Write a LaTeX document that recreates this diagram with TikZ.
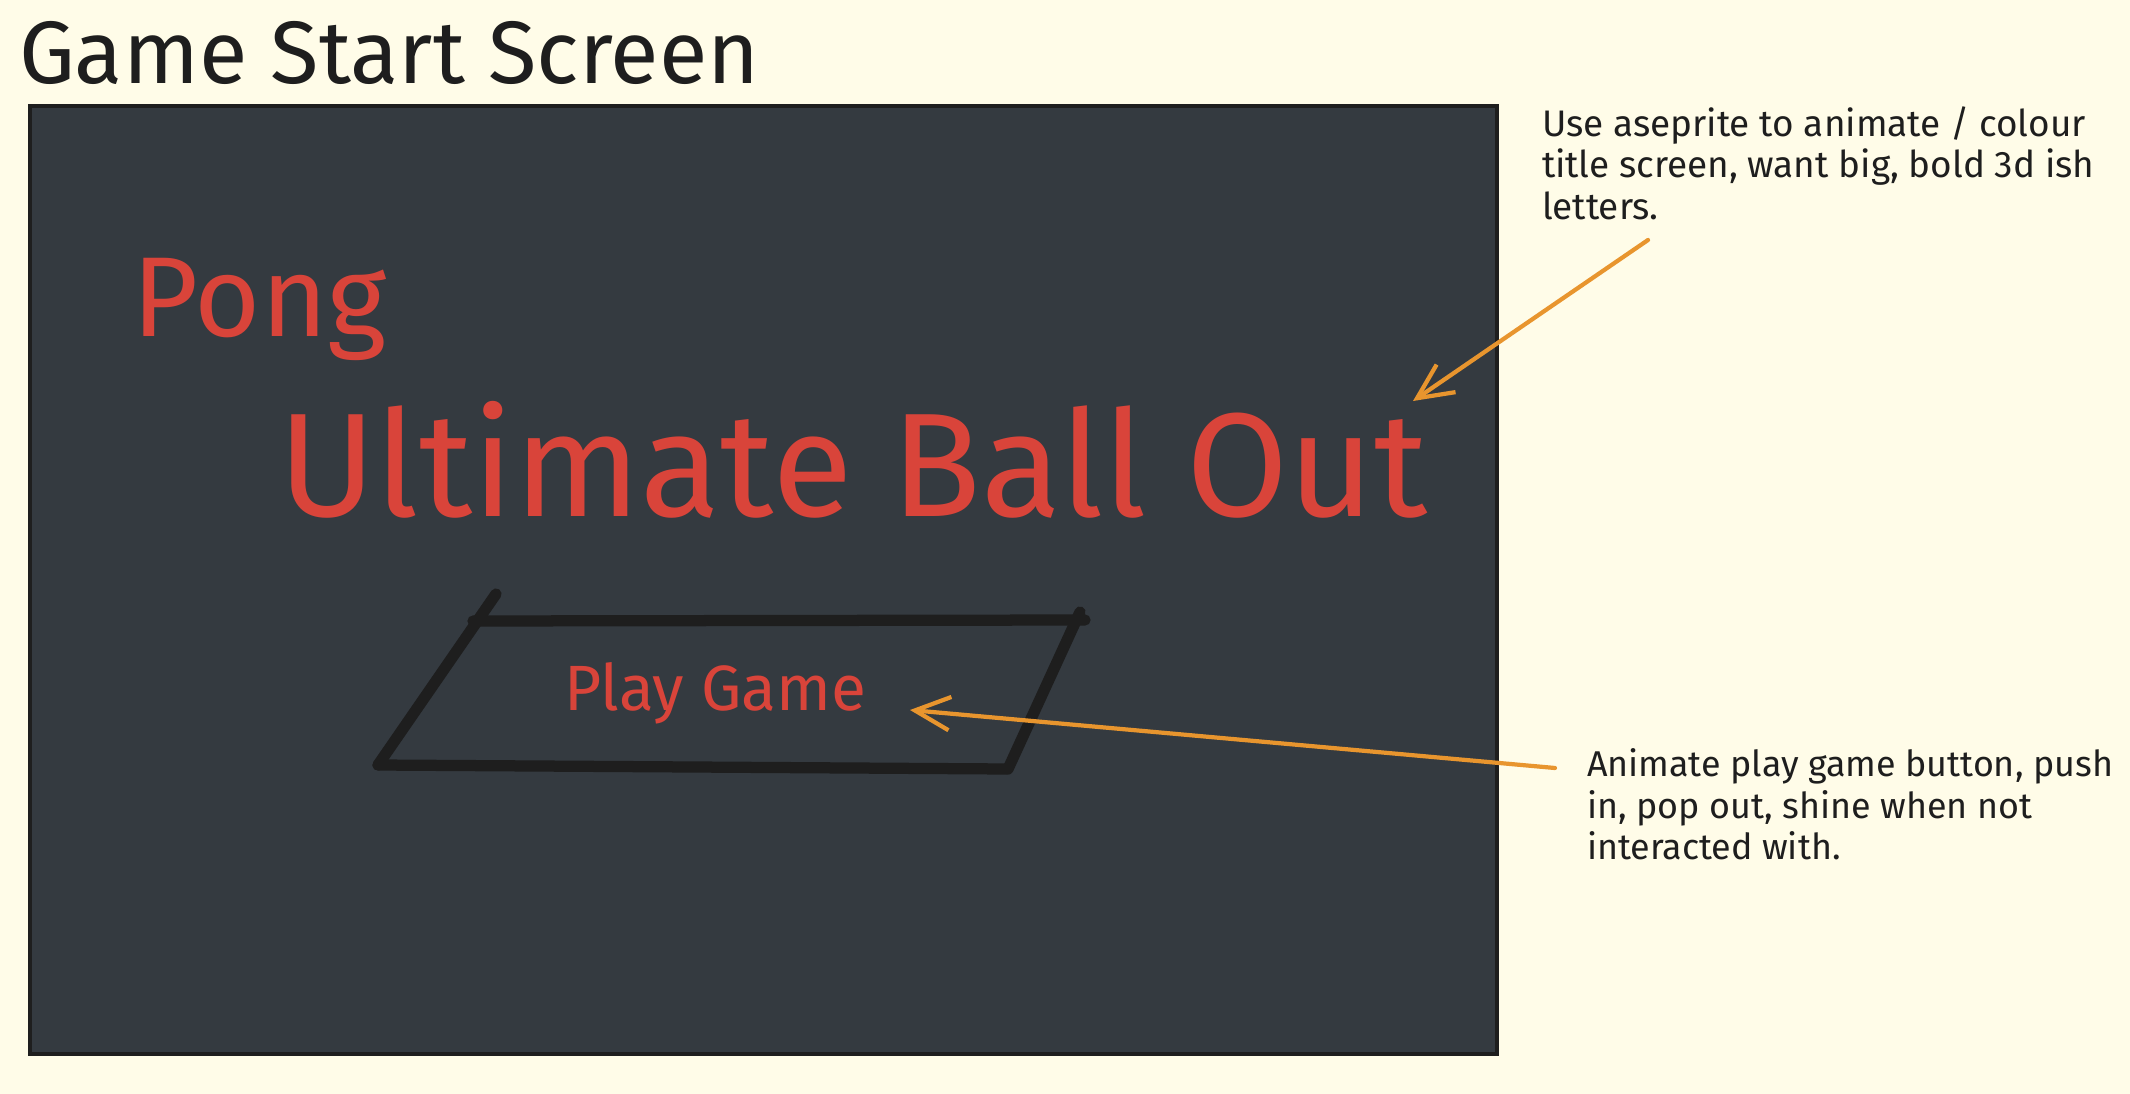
\documentclass[tikz,border=0pt]{standalone}
\usepackage{fontspec}
\setmainfont{Fira Sans}
\usetikzlibrary{arrows.meta}
\definecolor{paper}{HTML}{FFFCE8}
\definecolor{slate}{HTML}{343A40}
\definecolor{ink}{HTML}{1E1E1E}
\definecolor{pongred}{HTML}{D9443A}
\definecolor{noteorange}{HTML}{E8952E}

\begin{document}
\begin{tikzpicture}[x=0.01cm, y=-0.01cm,
  every node/.style={inner sep=0pt, outer sep=0pt},
  redtext/.style={text=pongred, anchor=base west},
  note/.style={text=ink, anchor=north west, align=left},
  pointer/.style={draw=noteorange, line width=1.2pt, line cap=round, -{Straight Barb[length=10pt, width=9.5pt]}},
  sketch/.style={draw=ink, line width=3.2pt, line cap=round}]
  \fill[paper] (0,0) rectangle (2130,1094);
  \useasboundingbox (0,0) rectangle (2130,1094);
  \node[anchor=base west, text=ink, font=\fontsize{25.2}{30}\selectfont] (title) at (19,84) {Game Start Screen};
  \filldraw[fill=slate, draw=ink, line width=1pt] (30,106) rectangle (1497,1054);
  \node[redtext, font=\fontsize{32.3}{36}\selectfont] (pong) at (132,337) {Pong};
  \node[redtext, font=\fontsize{42}{48}\selectfont] (game) at (278,516) {Ultimate Ball Out};
  \node[redtext, font=\fontsize{18.2}{22}\selectfont] (play) at (564,710) {Play Game};
  \coordinate (btl) at (473,621);
  \coordinate (btr) at (1085,620);
  \coordinate (bbr) at (1008,769);
  \coordinate (bbl) at (378,765);
  \draw[sketch] (btl) -- (btr);
  \draw[sketch] (1080,612) -- (bbr);
  \draw[sketch] (bbl) -- (bbr);
  \draw[sketch] (bbl) -- (496,594);
  \node[note, font=\fontsize{10.5}{11.7}\selectfont] (note1) at (1542,107) {Use aseprite to animate / colour\\title screen, want big, bold 3d ish\\letters.};
  \node[note, font=\fontsize{10.2}{11.7}\selectfont] (note2) at (1587,749) {Animate play game button, push\\in, pop out, shine when not\\interacted with.};
  \coordinate (n1tail) at (1648,240);
  \coordinate (gametip) at (1413,401);
  \coordinate (n2tail) at (1555,768);
  \coordinate (playtip) at (910,710);
  \draw[pointer] (n1tail) -- (gametip);
  \draw[pointer] (n2tail) -- (playtip);
\end{tikzpicture}
\end{document}
